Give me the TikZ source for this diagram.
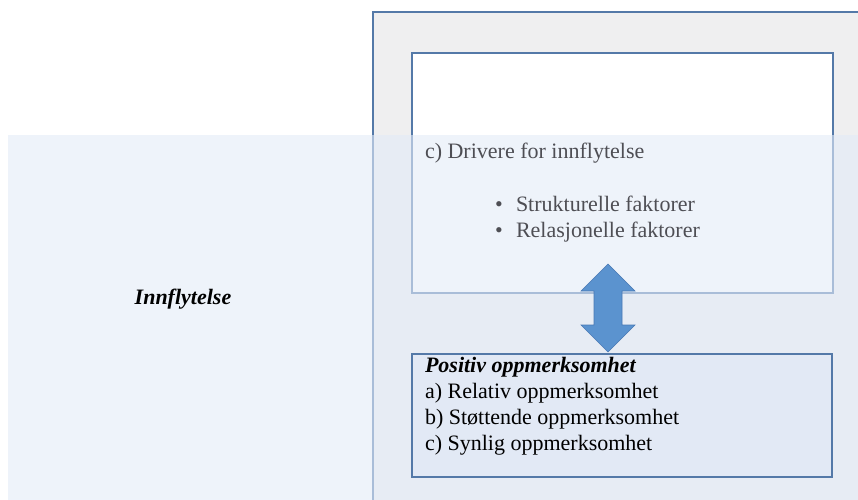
\documentclass[tikz,border=0pt]{standalone}
\usepackage{fontspec}
\setmainfont{Liberation Serif}
\begin{document}
\definecolor{panelfill}{RGB}{239,239,240}
\definecolor{frameblue}{RGB}{84,121,168}
\definecolor{bandblue}{RGB}{227,235,248}
\definecolor{lowerfill}{RGB}{226,233,245}
\definecolor{arrowfill}{RGB}{91,147,207}
\definecolor{arrowline}{RGB}{72,120,180}
\definecolor{softtext}{RGB}{78,78,84}
\begin{tikzpicture}[x=1pt,y=-1pt,
  every node/.style={inner sep=0pt, outer sep=0pt},
  framebox/.style={draw=frameblue, line width=1.4pt, anchor=north west},
  txt/.style={anchor=base west, font=\fontsize{22}{26}\selectfont},
  dim/.style={txt, text=softtext}]
\useasboundingbox (0,0) rectangle (858,499);
\clip (0,0) rectangle (858,499);
\fill[white] (0,0) rectangle (858,499);

% outer grey panel and the upper box
\node[framebox, fill=panelfill, minimum width=497pt, minimum height=498pt] (panel) at (373,12) {};
\node[framebox, fill=white, minimum width=421pt, minimum height=240pt] (upper) at (412,53) {};

% translucent band spanning the lower part
\fill[bandblue, opacity=0.6] (8,135) rectangle (870,510);

% text in the upper box
\node[dim] (drv) at (425,158) {c) Drivere for innflytelse};
\node[dim] (b1) at (495,211) {•};
\node[dim] (s1) at (516,211) {Strukturelle faktorer};
\node[dim] (b2) at (495,237) {•};
\node[dim] (s2) at (516,237) {Relasjonelle faktorer};

% band label
\node[anchor=base, font=\fontsize{22}{26}\selectfont\bfseries\itshape] (infl) at (183,304) {Innflytelse};

% lower box
\node[framebox, fill=lowerfill, minimum width=420pt, minimum height=123pt] (lower) at (412,354) {};
\node[txt, font=\fontsize{22}{26}\selectfont\bfseries\itshape] (pos) at (425,372) {Positiv oppmerksomhet};
\node[txt] (la) at (425,398) {a) Relativ oppmerksomhet};
\node[txt] (lb) at (425,424) {b) Støttende oppmerksomhet};
\node[txt] (lc) at (425,450) {c) Synlig oppmerksomhet};

% double arrow linking the two boxes
\coordinate (atop) at (608,264);
\coordinate (abot) at (608,352);
\fill[arrowfill, draw=arrowline, line width=0.6pt, line join=miter]
  (atop) -- ++(27,27) -- ++(-13,0) -- ++(0,34) -- ++(13,0)
  -- (abot) -- ++(-27,-27) -- ++(13,0) -- ++(0,-34) -- ++(-13,0) -- cycle;
\end{tikzpicture}
\end{document}
